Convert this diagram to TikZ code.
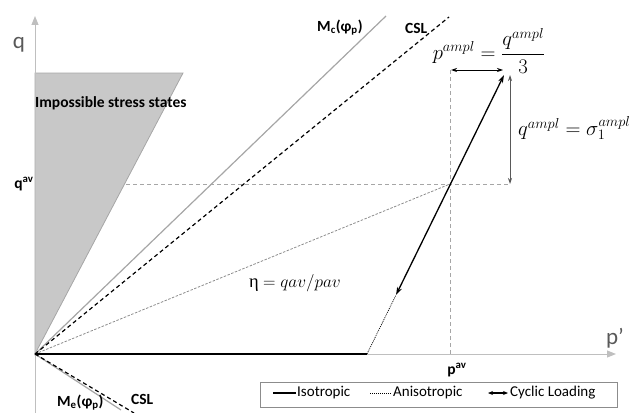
\documentclass[tikz,border=0pt]{standalone}
\usepackage[no-math]{fontspec}
\setmainfont{Carlito}
\newfontfamily\grkserif{Liberation Serif}
\usetikzlibrary{arrows.meta}
\definecolor{axisgrey}{HTML}{BFBFBF}
\definecolor{lgrey}{HTML}{A6A6A6}
\definecolor{trigrey}{HTML}{C8C8C8}
\definecolor{dgrey}{HTML}{595959}
\definecolor{mgrey}{HTML}{8C8C8C}
\begin{document}
\begin{tikzpicture}[x=1pt,y=-1pt,
  axis/.style={draw=axisgrey, line width=1pt, -{Triangle[length=9pt,width=7pt,fill=axisgrey]}},
  guide/.style={draw=lgrey, line width=0.8pt, dash pattern=on 4pt off 3pt},
  envline/.style={draw=lgrey, line width=1.2pt},
  cslline/.style={draw=black, line width=1.2pt, dash pattern=on 4pt off 3pt},
  etaline/.style={draw=mgrey, line width=0.8pt, dash pattern=on 2.5pt off 1.5pt},
  isoline/.style={draw=black, line width=1.6pt},
  anisoline/.style={draw=black, line width=0.7pt, dash pattern=on 1pt off 1pt},
  cycline/.style={draw=black, line width=1.3pt, {Stealth[length=8pt,width=5pt]}-{Stealth[length=8pt,width=5pt]}},
  amplarrow/.style={line width=0.8pt, {Stealth[length=6pt,width=4pt]}-{Stealth[length=6pt,width=4pt]}},
  lbl/.style={inner sep=0pt, font=\fontsize{15.5}{18}\selectfont\bfseries},
  legtext/.style={inner sep=0pt, anchor=west, font=\fontsize{15}{17}\selectfont},
  axlbl/.style={inner sep=0pt, text=dgrey, font=\fontsize{23}{26}\selectfont}
]
\useasboundingbox (0,0) rectangle (636,412);
\clip (0,0) rectangle (636,412);

% key points
\coordinate (O) at (35,354);
\coordinate (qtip) at (35,16);
\coordinate (qbot) at (35,413);
\coordinate (ptip) at (616,354);
\coordinate (Mctop) at (386,16);
\coordinate (CSLtop) at (449,17);
\coordinate (Mebot) at (121,410);
\coordinate (CSLbot) at (134,413);
\coordinate (M) at (450,184);
\coordinate (A) at (504,75);
\coordinate (B) at (396,295);
\coordinate (I) at (367,354);
\coordinate (qavL) at (35,184);
\coordinate (qavR) at (510,184);
\coordinate (pavT) at (450,70);
\coordinate (pavB) at (450,354);
\coordinate (TL) at (35,73);
\coordinate (TR) at (183,73);
\coordinate (paL) at (451,70);
\coordinate (paR) at (503,70);
\coordinate (qaT) at (510,75);
\coordinate (qaB) at (510,184);

% guide lines
\draw[guide] (qavL) -- (qavR);
\draw[guide] (pavT) -- (pavB);

% impossible stress states
\filldraw[fill=trigrey, draw=lgrey, line width=0.8pt] (O) -- (TL) -- (TR) -- cycle;

% axes
\draw[axis] (qbot) -- (qtip);
\draw[axis] (O) -- (ptip);

% failure / critical state lines
\draw[envline] (O) -- (Mctop);
\draw[cslline] (O) -- (CSLtop);
\draw[envline] (O) -- (Mebot);
\draw[cslline] (O) -- (CSLbot);

% stress path
\draw[etaline] (O) -- (M);
\draw[isoline] (O) -- (I);
\draw[anisoline] (I) -- (B);
\draw[cycline] (B) -- (A);

% amplitude arrows
\draw[amplarrow, draw=black] (paL) -- (paR);
\draw[amplarrow, draw=dgrey] (qaT) -- (qaB);

% labels
\node[axlbl] (qlab) at (19,45) {q};
\node[axlbl] (plab) at (615,338) {p'};
\node[lbl, anchor=west] (imp) at (35,103) {Impossible stress states};
\node[lbl, anchor=west] (mclab) at (317,28) {M\textsubscript{c}(φ\textsubscript{p})};
\node[lbl, anchor=west] (csltop) at (405,28) {CSL};
\node[lbl, anchor=west] (cslbot) at (131,399) {CSL};
\node[lbl, anchor=base west] (melab) at (57,406) {M\textsubscript{e}(φ\textsubscript{p})};
\node[lbl] (qav) at (24,184) {q\textsuperscript{av}};
\node[lbl] (pav) at (457,370) {p\textsuperscript{av}};
\node[inner sep=0pt, font=\fontsize{18.5}{21}\selectfont] (eta) at (295,283) {{\grkserif η} $= qav/pav$};
\node[inner sep=0pt, font=\fontsize{19.5}{23}\selectfont] (pampl) at (489,51) {$\displaystyle p^{ampl}=\frac{q^{ampl}}{3}$};
\node[inner sep=0pt, font=\fontsize{20}{24}\selectfont, anchor=west] (qampl) at (518,128) {$q^{ampl}=\sigma_1^{ampl}$};

% legend
\node[draw=mgrey, line width=0.8pt, minimum width=357pt, minimum height=25pt, inner sep=0pt] (legend) at (438.5,394.5) {};
\coordinate (l1a) at (273,393);
\coordinate (l1b) at (296,393);
\coordinate (l2a) at (370,393);
\coordinate (l2b) at (392,393);
\coordinate (l3a) at (488,393);
\coordinate (l3b) at (508,393);
\draw[black, line width=1.5pt] (l1a) -- (l1b);
\draw[anisoline] (l2a) -- (l2b);
\draw[black, line width=1.2pt, {Stealth[length=5pt,width=4pt]}-{Stealth[length=5pt,width=4pt]}] (l3a) -- (l3b);
\node[legtext] (t1) at (297,393) {Isotropic};
\node[legtext] (t2) at (393,393) {Anisotropic};
\node[legtext] (t3) at (510,393) {Cyclic Loading};
\end{tikzpicture}
\end{document}
